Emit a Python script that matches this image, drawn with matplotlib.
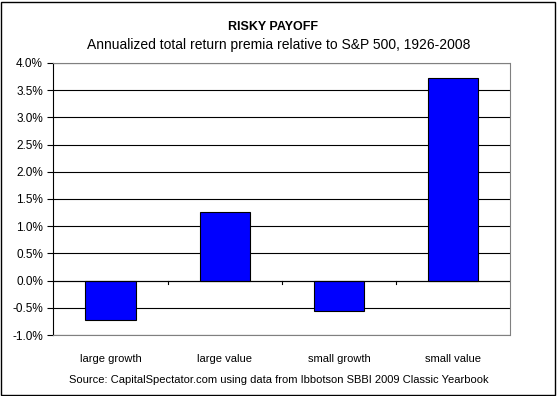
import matplotlib
matplotlib.use("Agg")
import matplotlib.pyplot as plt
from matplotlib.patches import Rectangle
from matplotlib.ticker import FuncFormatter, MultipleLocator

plt.rcParams["font.family"] = ["Liberation Sans", "DejaVu Sans"]

# === DATA ===
categories = ["large growth", "large value", "small growth", "small value"]
premia = [-0.73, 1.27, -0.55, 3.73]   # percent

# === Plot ===
fig = plt.figure(figsize=(5.57, 3.96), dpi=100)
ax = fig.add_axes([0.096, 0.154, 0.820, 0.687])

ax.set_ylim(-1.0, 4.0)
ax.set_xlim(-0.5, len(categories) - 0.5)
ax.yaxis.set_major_locator(MultipleLocator(0.5))
ax.yaxis.set_major_formatter(FuncFormatter(lambda v, p: f"{v:.1f}%"))
ax.grid(axis="y", color="black", linewidth=0.8)
ax.set_axisbelow(True)

ax.bar(range(len(categories)), premia, width=0.44, color="#0000FF",
       edgecolor="black", linewidth=0.8, zorder=3)

# zero line with category separator ticks
ax.axhline(0, color="black", linewidth=0.8, zorder=4)
for i in range(1, len(categories)):
    ax.plot([i - 0.5, i - 0.5], [0, -0.06], color="black", linewidth=0.8,
            clip_on=False, zorder=4)

ax.set_xticks(range(len(categories)))
ax.set_xticklabels(categories, fontsize=8)
ax.tick_params(axis="x", length=0, pad=14)
ax.tick_params(axis="y", labelsize=8.5, length=4, direction="out", width=0.8)

ax.spines["left"].set_color("black")
ax.spines["left"].set_linewidth(0.8)
for s in ["top", "right", "bottom"]:
    ax.spines[s].set_color("#808080")
    ax.spines[s].set_linestyle((0, (1, 1)))
    ax.spines[s].set_linewidth(0.8)

fig.text(0.49, 0.932, "RISKY PAYOFF", ha="center", va="center",
         fontsize=9, fontweight="bold")
fig.text(0.5, 0.887, "Annualized total return premia relative to S&P 500, 1926-2008",
         ha="center", va="center", fontsize=10)
fig.text(0.5, 0.04, "Source: CapitalSpectator.com using data from Ibbotson SBBI 2009 Classic Yearbook",
         ha="center", va="center", fontsize=8)

fig.patches.append(Rectangle((0.002, 0.003), 0.995, 0.993, transform=fig.transFigure,
                             fill=False, edgecolor="black", linewidth=1))

plt.savefig("out.png", dpi=100)
